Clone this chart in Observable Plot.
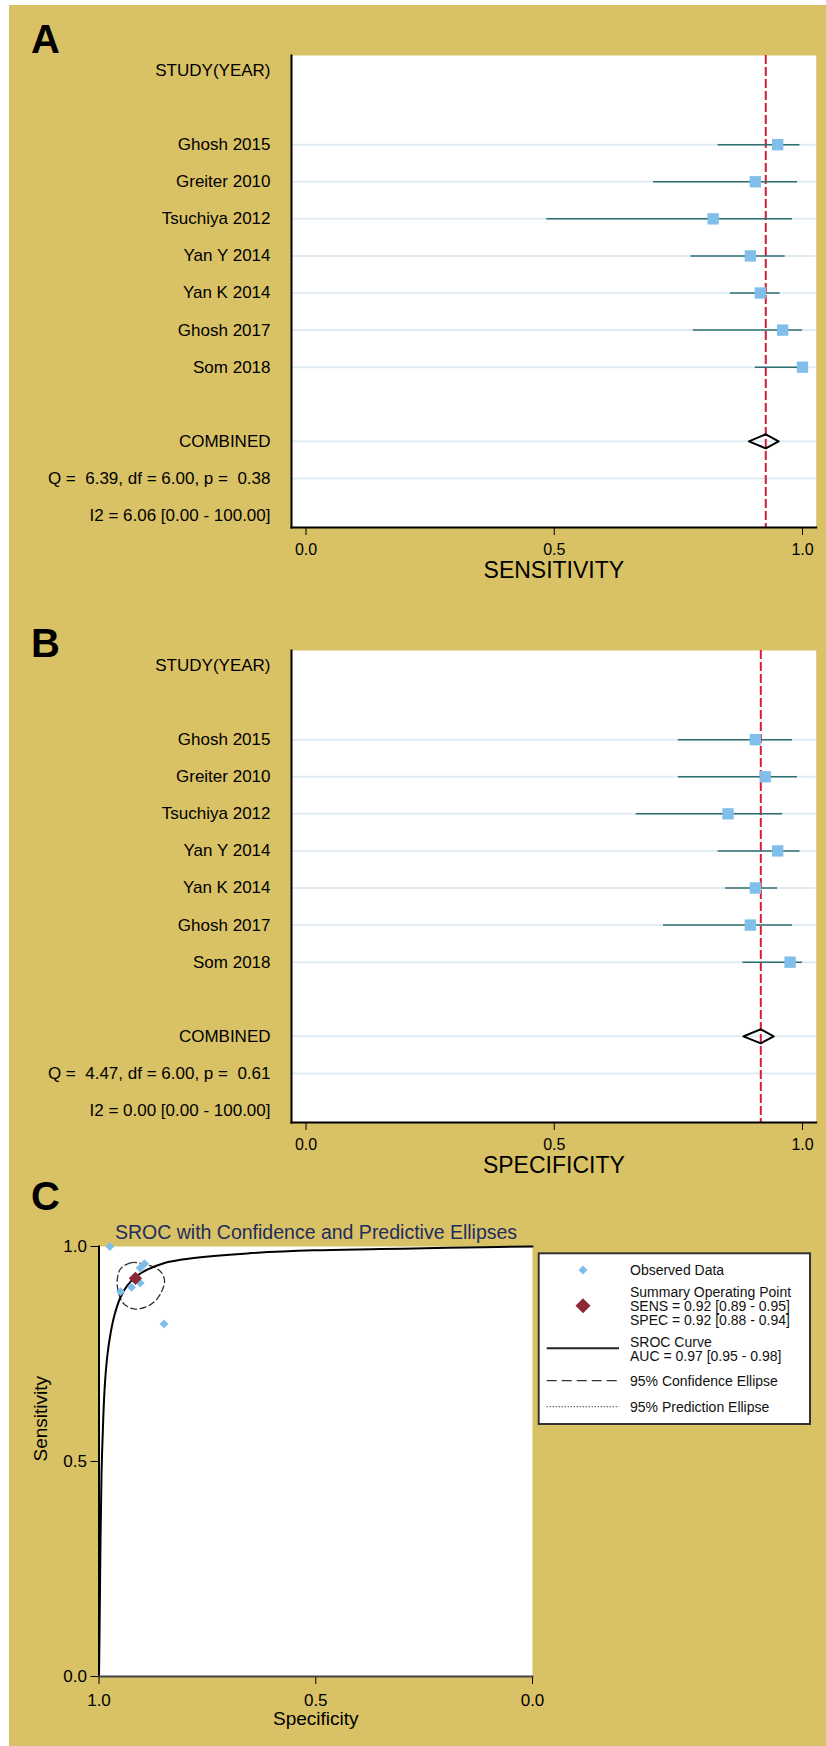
<!DOCTYPE html>
<html>
<head>
<meta charset="utf-8">
<script src="https://cdn.jsdelivr.net/npm/d3@7"></script>
<script src="https://cdn.jsdelivr.net/npm/@observablehq/plot@0.6"></script>
<style>
  html, body { margin: 0; padding: 0; background: #ffffff; width: 826px; height: 1746px; overflow: hidden; }
  #bg { position: absolute; left: 9px; top: 5px; width: 817px; height: 1741px; background: #d9c265; }
  .panel { position: absolute; left: 0; }
  svg text { white-space: pre; }
  #overlay { position: absolute; left: 0; top: 0; pointer-events: none; }
</style>
</head>
<body>
<div id="bg"></div>
<div id="pa" class="panel" style="top:0px"></div>
<div id="pb" class="panel" style="top:595px"></div>
<div id="pc" class="panel" style="top:1190px"></div>
<svg id="overlay" width="826" height="1746"></svg>
<script>
// ---------- data ----------
const studies = ["Ghosh 2015", "Greiter 2010", "Tsuchiya 2012", "Yan Y 2014", "Yan K 2014", "Ghosh 2017", "Som 2018"];
const sensEst = [0.95, 0.905, 0.82, 0.895, 0.915, 0.96, 1.00];
const sensLo  = [0.83, 0.70, 0.485, 0.775, 0.855, 0.78, 0.905];
const sensHi  = [0.995, 0.99, 0.98, 0.965, 0.955, 1.00, 1.00];
const specEst = [0.905, 0.925, 0.85, 0.95, 0.905, 0.895, 0.975];
const specLo  = [0.75, 0.75, 0.665, 0.83, 0.845, 0.72, 0.88];
const specHi  = [0.98, 0.99, 0.96, 0.995, 0.95, 0.98, 1.00];
const sensCombined = [0.926, 0.892, 0.952]; // est, lo, hi
const specCombined = [0.916, 0.881, 0.942];
const sensStats = ["Q =  6.39, df = 6.00, p =  0.38", "I2 = 6.06 [0.00 - 100.00]"];
const specStats = ["Q =  4.47, df = 6.00, p =  0.61", "I2 = 0.00 [0.00 - 100.00]"];
const headerLabel = "STUDY(YEAR)";
const combinedLabel = "COMBINED";
const xTicks = [0, 0.5, 1];

// SROC curve (specificity, sensitivity)
const srocSpec = [1.0, 0.9988, 0.9965, 0.9942, 0.9919, 0.9873, 0.9811, 0.9735, 0.9636, 0.9504, 0.9349, 0.9158, 0.8888, 0.8505, 0.812, 0.7352, 0.6581, 0.5045, 0.3506, 0.1967, 0.0];
const srocSens = [0.0, 0.099, 0.316, 0.471, 0.549, 0.665, 0.743, 0.797, 0.843, 0.882, 0.909, 0.929, 0.946, 0.961, 0.969, 0.978, 0.984, 0.991, 0.994, 0.997, 1.0];
// 95% confidence ellipse
const ellSpec = [0.9504, 0.9273, 0.9043, 0.8736, 0.8565, 0.8489, 0.8542, 0.8697, 0.8927, 0.9197, 0.9428, 0.9543, 0.9580];
const ellSens = [0.948, 0.962, 0.961, 0.952, 0.940, 0.921, 0.898, 0.874, 0.859, 0.855, 0.867, 0.890, 0.921];

const legendItems = [
  ["Observed Data"],
  ["Summary Operating Point", "SENS = 0.92 [0.89 - 0.95]", "SPEC = 0.92 [0.88 - 0.94]"],
  ["SROC Curve", "AUC = 0.97 [0.95 - 0.98]"],
  ["95% Confidence Ellipse"],
  ["95% Prediction Ellipse"]
];
const chartTitle = "SROC with Confidence and Predictive Ellipses";

// ---------- colors ----------
const FONT = "'Liberation Sans', Arial, sans-serif";
const squareColor = "#7fbfe9";
const ciColor = "#2f6e70";
const refColor = "#d21f3c";
const gridColor = "#e1ecf2";
const summaryColor = "#8b2a35";

function forest(est, lo, hi, comb, stats, axisLabel) {
  const rows = studies.map((s, i) => ({row: i + 2, est: est[i], lo: lo[i], hi: hi[i]}));
  const labels = [headerLabel, "", ...studies, "", combinedLabel, ...stats];
  const combRow = 10;
  const gridRows = [2, 3, 4, 5, 6, 7, 8, 10, 11];
  const dh = 0.19;
  const diamond = [
    {x: comb[1], y: combRow}, {x: comb[0], y: combRow - dh},
    {x: comb[2], y: combRow}, {x: comb[0], y: combRow + dh}
  ];
  return Plot.plot({
    width: 826, height: 595,
    marginLeft: 291, marginRight: 10.3, marginTop: 55, marginBottom: 68,
    style: {fontFamily: FONT, background: "transparent", color: "#000", maxWidth: "none", overflow: "visible"},
    x: {domain: [0, 1], range: [305.5, 802]},
    y: {domain: [0, 12], range: [70, 515]},
    marks: [
      Plot.frame({fill: "white", stroke: null}),
      Plot.ruleY(gridRows, {stroke: gridColor, strokeWidth: 2}),
      Plot.ruleX([comb[0]], {stroke: refColor, strokeWidth: 2, strokeDasharray: "9,3"}),
      Plot.ruleY(rows, {y: "row", x1: "lo", x2: "hi", stroke: ciColor, strokeWidth: 1.5}),
      Plot.dot(rows, {x: "est", y: "row", symbol: "square", r: 6.4, fill: squareColor, stroke: null}),
      Plot.line(diamond, {x: "x", y: "y", curve: "linear-closed", stroke: "black", strokeWidth: 2}),
      Plot.axisY({ticks: d3.range(13), tickFormat: i => labels[i], tickSize: 0, tickPadding: 21, fontSize: 17, label: null}),
      Plot.axisX({ticks: xTicks, tickFormat: d3.format(".1f"), tickSize: 8, tickPadding: 8, fontSize: 16, label: null}),
      Plot.text([axisLabel], {frameAnchor: "bottom", lineAnchor: "bottom", dy: 50, fontSize: 23, fill: "black"}),
      Plot.frame({anchor: "left", stroke: "black", strokeWidth: 2}),
      Plot.frame({anchor: "bottom", stroke: "black", strokeWidth: 2})
    ]
  });
}

document.getElementById("pa").append(forest(sensEst, sensLo, sensHi, sensCombined, sensStats, "SENSITIVITY"));
document.getElementById("pb").append(forest(specEst, specLo, specHi, specCombined, specStats, "SPECIFICITY"));

// ---------- panel C ----------
const observed = studies.map((s, i) => ({spec: specEst[i], sens: sensEst[i]}));
const sroc = srocSpec.map((v, i) => ({spec: v, sens: srocSens[i]}));
const ell = ellSpec.map((v, i) => ({spec: v, sens: ellSens[i]}));
const summary = [{spec: specCombined[0], sens: sensCombined[0]}];

const pc = Plot.plot({
  width: 826, height: 556,
  marginLeft: 98.5, marginRight: 294, marginTop: 56, marginBottom: 70,
  style: {fontFamily: FONT, background: "transparent", color: "#000", maxWidth: "none", overflow: "visible"},
  x: {domain: [0, 1], reverse: true},
  y: {domain: [0, 1]},
  marks: [
    Plot.frame({fill: "white", stroke: null}),
    Plot.line(ell, {x: "spec", y: "sens", curve: "catmull-rom-closed", stroke: "#333", strokeWidth: 1.3, strokeDasharray: "6,3.5"}),
    Plot.line(sroc, {x: "spec", y: "sens", curve: "catmull-rom", stroke: "black", strokeWidth: 2}),
    Plot.dot(observed, {x: "spec", y: "sens", symbol: "diamond2", r: 4, fill: "#7dbde7", stroke: null}),
    Plot.dot(summary, {x: "spec", y: "sens", symbol: "diamond2", r: 6, fill: summaryColor, stroke: null}),
    Plot.axisY({ticks: xTicks, tickFormat: d3.format(".1f"), tickSize: 8, tickPadding: 4, fontSize: 17, label: null}),
    Plot.axisX({ticks: xTicks, tickFormat: d3.format(".1f"), tickSize: 8, tickPadding: 9, fontSize: 17, label: null}),
    Plot.text(["Specificity"], {frameAnchor: "bottom", lineAnchor: "bottom", dy: 48, fontSize: 19, fill: "black"}),
    Plot.text(["Sensitivity"], {frameAnchor: "left", rotate: -90, dx: -58, fontSize: 19, fill: "black"}),
    Plot.frame({anchor: "left", stroke: "black", strokeWidth: 2}),
    Plot.frame({anchor: "bottom", stroke: "#444", strokeWidth: 2})
  ]
});
document.getElementById("pc").append(pc);

// ---------- overlay: panel letters, title, legend ----------
const ov = d3.select("#overlay").style("font-family", FONT);
[["A", 53], ["B", 657], ["C", 1210]].forEach(([t, y]) => {
  ov.append("text").attr("x", 31).attr("y", y).attr("font-size", 40).attr("font-weight", "bold").attr("fill", "#000").text(t);
});
ov.append("text").attr("x", 115).attr("y", 1239).attr("font-size", 19.5).attr("fill", "#1f2c5e").text(chartTitle);

const lg = ov.append("g");
lg.append("rect").attr("x", 538.7).attr("y", 1253.3).attr("width", 271.3).attr("height", 170.7)
  .attr("fill", "white").attr("stroke", "#333").attr("stroke-width", 2);
const diamondPath = s => `M0,${-s}L${s},0L0,${s}L${-s},0Z`;
lg.append("path").attr("d", diamondPath(4.5)).attr("transform", "translate(583,1270)").attr("fill", "#7dbde7");
lg.append("path").attr("d", diamondPath(7.5)).attr("transform", "translate(583,1305.7)").attr("fill", summaryColor);
lg.append("line").attr("x1", 546.7).attr("x2", 619).attr("y1", 1348.3).attr("y2", 1348.3).attr("stroke", "#222").attr("stroke-width", 2);
lg.append("line").attr("x1", 546.7).attr("x2", 619).attr("y1", 1380.7).attr("y2", 1380.7).attr("stroke", "#333").attr("stroke-width", 1.3).attr("stroke-dasharray", "10,5");
lg.append("line").attr("x1", 546.7).attr("x2", 619).attr("y1", 1406.7).attr("y2", 1406.7).attr("stroke", "#333").attr("stroke-width", 1.2).attr("stroke-dasharray", "1,2");
const legendBaselines = [[1275], [1296.7, 1310.7, 1325], [1346.7, 1360.7], [1385.7], [1411.7]];
legendItems.forEach((lines, i) => {
  lines.forEach((t, j) => {
    lg.append("text").attr("x", 630).attr("y", legendBaselines[i][j]).attr("font-size", 14).attr("fill", "#111").text(t);
  });
});
</script>
</body>
</html>
